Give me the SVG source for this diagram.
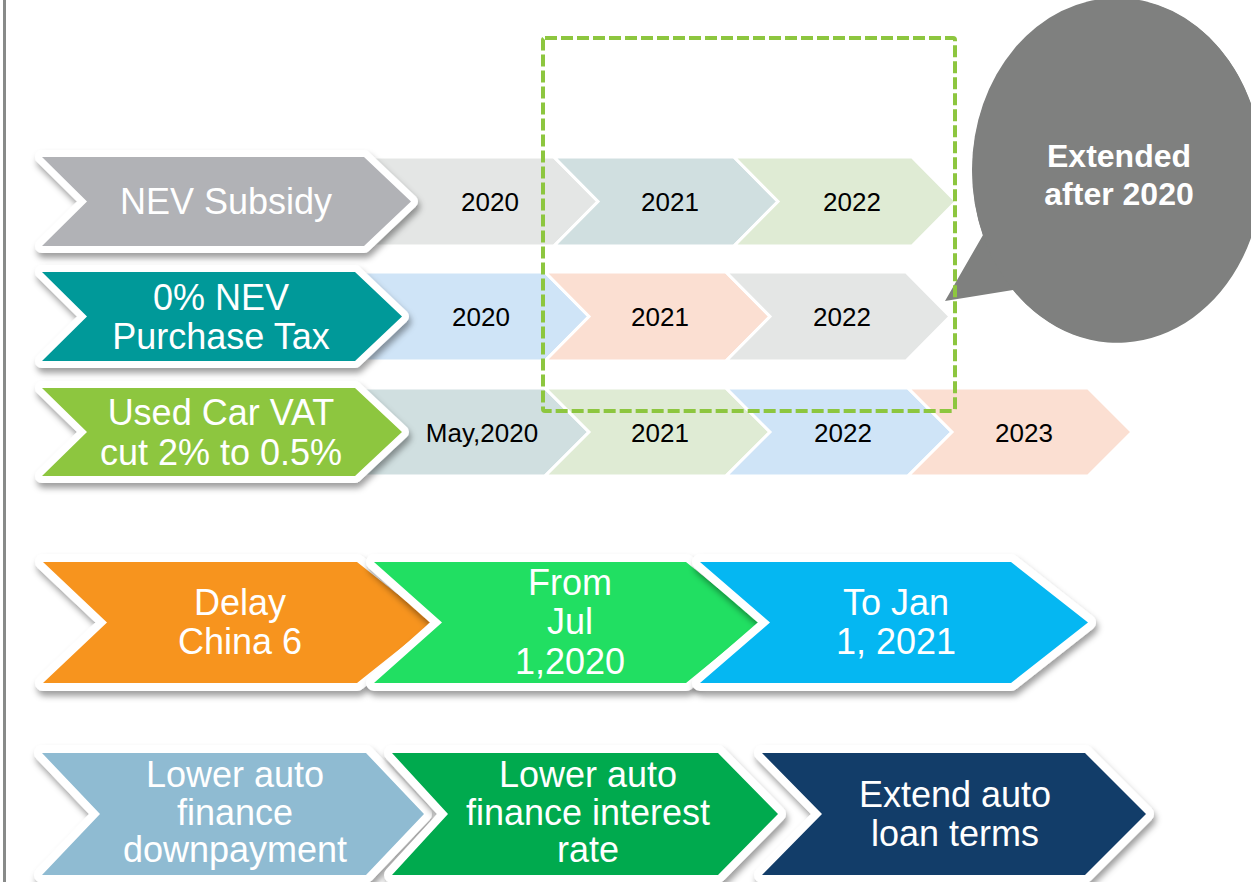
<svg xmlns="http://www.w3.org/2000/svg" width="1251" height="882" viewBox="0 0 1251 882">
  <defs>
    <filter id="shadow" x="-10%" y="-15%" width="125%" height="145%">
      <feDropShadow dx="2" dy="5" stdDeviation="3" flood-color="#000" flood-opacity="0.38"/>
    </filter>
    <style>
      .rim { fill:#fff; stroke:#fff; stroke-width:14; stroke-linejoin:round; filter:url(#shadow); }
      .rim.big { stroke-width:16; }
      .step { stroke:#fff; stroke-width:3; stroke-linejoin:miter; }
      .lbl { font-family:"Liberation Sans", Arial, sans-serif; font-size:36px; fill:#fff; text-anchor:middle; }
      .yr { font-family:"Liberation Sans", Arial, sans-serif; font-size:26px; fill:#000; text-anchor:middle; }
      .callout-text { font-family:"Liberation Sans", Arial, sans-serif; font-size:32px; font-weight:bold; fill:#fff; text-anchor:middle; }
      .frame { fill:none; stroke:#8dc63f; stroke-width:4; stroke-dasharray:12 4; }
    </style>
  </defs>

  <rect width="1251" height="882" fill="#fff"/>
  <!-- slide margin rule -->
  <rect x="3" y="0" width="3" height="882" fill="#888a89"/>

  <!-- timeline steps behind the policy labels -->
  <g id="timeline-row1">
    <polygon class="step" fill="#e4e6e5" points="340,157 554,157 598,201.5 554,246 340,246"/>
    <polygon class="step" fill="#d0dfe0" points="554,157 734,157 778,201.5 734,246 554,246 598,201.5"/>
    <polygon class="step" fill="#dfebd4" points="734,157 912,157 956,201.5 912,246 734,246 778,201.5"/>
    <text class="yr" x="490" y="210.5">2020</text>
    <text class="yr" x="670" y="210.5">2021</text>
    <text class="yr" x="852" y="210.5">2022</text>
  </g>
  <g id="timeline-row2">
    <polygon class="step" fill="#cfe4f7" points="340,272 545,272 589,316.5 545,361 340,361"/>
    <polygon class="step" fill="#fbdfd2" points="545,272 726,272 770,316.5 726,361 545,361 589,316.5"/>
    <polygon class="step" fill="#e4e6e5" points="726,272 906,272 950,316.5 906,361 726,361 770,316.5"/>
    <text class="yr" x="481" y="325.5">2020</text>
    <text class="yr" x="660" y="325.5">2021</text>
    <text class="yr" x="842" y="325.5">2022</text>
  </g>
  <g id="timeline-row3">
    <polygon class="step" fill="#d0dfe0" points="340,388 545,388 589,432 545,476 340,476"/>
    <polygon class="step" fill="#dfebd4" points="545,388 726,388 770,432 726,476 545,476 589,432"/>
    <polygon class="step" fill="#cfe4f7" points="726,388 908,388 952,432 908,476 726,476 770,432"/>
    <polygon class="step" fill="#fbdfd2" points="908,388 1088,388 1132,432 1088,476 908,476 952,432"/>
    <text class="yr" x="482" y="441.5">May,2020</text>
    <text class="yr" x="660" y="441.5">2021</text>
    <text class="yr" x="843" y="441.5">2022</text>
    <text class="yr" x="1024" y="441.5">2023</text>
  </g>

  <!-- policy labels -->
  <g id="nev-subsidy">
    <polygon class="rim" points="42,157 87,201.5 42,246 364,246 411,201.5 364,157"/>
    <polygon fill="#b1b2b6" points="42,157 87,201.5 42,246 364,246 411,201.5 364,157"/>
    <text class="lbl" x="226" y="214">NEV Subsidy</text>
  </g>
  <g id="nev-purchase-tax">
    <polygon class="rim" points="42,272 87,316.5 42,361 355,361 402,316.5 355,272"/>
    <polygon fill="#009999" points="42,272 87,316.5 42,361 355,361 402,316.5 355,272"/>
    <text class="lbl" x="221" y="310">0% NEV</text>
    <text class="lbl" x="221" y="349">Purchase Tax</text>
  </g>
  <g id="used-car-vat">
    <polygon class="rim" points="42,388 87,432 42,476 355,476 402,432 355,388"/>
    <polygon fill="#8dc63f" points="42,388 87,432 42,476 355,476 402,432 355,388"/>
    <text class="lbl" x="221" y="425">Used Car VAT</text>
    <text class="lbl" x="221" y="465">cut 2% to 0.5%</text>
  </g>

  <!-- callout -->
  <g id="callout">
    <path fill="#7f807f" d="M945,301 L983,235 A145,172 0 1,1 1013,290 Z"/>
    <ellipse cx="1117" cy="170" rx="145" ry="172" fill="#7f807f"/>
    <text class="callout-text" x="1119" y="167">Extended</text>
    <text class="callout-text" x="1119" y="205">after 2020</text>
  </g>

  <!-- highlight around the extended years -->
  <g id="highlight">
    <rect class="frame" x="543" y="38" width="412" height="373" rx="2"/>
  </g>

  <!-- China 6 emission standard -->
  <g id="delay-china6">
    <polygon class="rim big" points="43,562 107,622.5 43,683 357,683 433,622.5 357,562"/>
    <polygon fill="#f7941e" points="43,562 107,622.5 43,683 357,683 433,622.5 357,562"/>
    <text class="lbl" x="240" y="615">Delay</text>
    <text class="lbl" x="240" y="654">China 6</text>
  </g>
  <g id="from-jul">
    <polygon class="rim big" points="374,562 442,622.5 374,683 686,683 760,622.5 686,562"/>
    <polygon fill="#21df62" points="374,562 442,622.5 374,683 686,683 760,622.5 686,562"/>
    <text class="lbl" x="570" y="595">From</text>
    <text class="lbl" x="570" y="634">Jul</text>
    <text class="lbl" x="570" y="674">1,2020</text>
  </g>
  <g id="to-jan">
    <polygon class="rim big" points="700,562 770,622.5 700,683 1011,683 1088,622.5 1011,562"/>
    <polygon fill="#05b7f2" points="700,562 770,622.5 700,683 1011,683 1088,622.5 1011,562"/>
    <text class="lbl" x="896" y="615">To Jan</text>
    <text class="lbl" x="896" y="654">1, 2021</text>
  </g>

  <!-- auto finance measures -->
  <g id="finance-downpayment">
    <polygon class="rim big" points="42,753 100,814 42,875 366,875 424,814 366,753"/>
    <polygon fill="#8fbbd2" points="42,753 100,814 42,875 366,875 424,814 366,753"/>
    <text class="lbl" x="235" y="787">Lower auto</text>
    <text class="lbl" x="235" y="825">finance</text>
    <text class="lbl" x="235" y="862">downpayment</text>
  </g>
  <g id="finance-interest">
    <polygon class="rim big" points="392,753 448,814 392,875 718,875 778,814 718,753"/>
    <polygon fill="#00aa4e" points="392,753 448,814 392,875 718,875 778,814 718,753"/>
    <text class="lbl" x="588" y="787">Lower auto</text>
    <text class="lbl" x="588" y="825">finance interest</text>
    <text class="lbl" x="588" y="862">rate</text>
  </g>
  <g id="loan-terms">
    <polygon class="rim big" points="762,753 822,814 762,875 1085,875 1146,814 1085,753"/>
    <polygon fill="#123d69" points="762,753 822,814 762,875 1085,875 1146,814 1085,753"/>
    <text class="lbl" x="955" y="807">Extend auto</text>
    <text class="lbl" x="955" y="846">loan terms</text>
  </g>
</svg>
